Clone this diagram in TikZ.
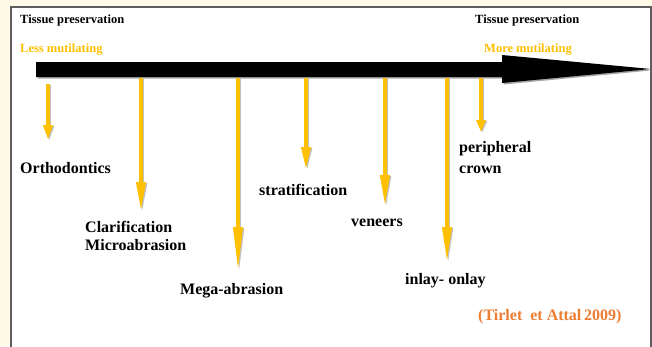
\documentclass[tikz,border=0pt]{standalone}
\usepackage{fontspec}
\setmainfont{Liberation Serif}
\usetikzlibrary{arrows.meta}
\definecolor{cream}{HTML}{FFFAE8}
\definecolor{gold}{HTML}{FFC000}
\definecolor{rust}{HTML}{ED7D31}
\definecolor{framegray}{HTML}{5F5F5F}
\tikzset{
  hdr/.style={font=\bfseries\fontsize{12.5}{14}\selectfont, anchor=base west, inner sep=0pt},
  lbl/.style={font=\bfseries\fontsize{16}{18}\selectfont, anchor=base west, inner sep=0pt},
  drop/.style={draw=gold, line width=4pt, -{Triangle[length=#1, width=9pt]}},
  dropshade/.style={draw=black!25, line width=4pt, -{Triangle[length=#1, width=9pt]}},
}
\begin{document}
\begin{tikzpicture}[x=1pt, y=-1pt]
  % page and panel
  \fill[cream] (0,0) rectangle (652,346);
  \useasboundingbox (0,0) rectangle (652,346);
  \draw[framegray, line width=2pt, fill=white] (11,7) rectangle (650.5,360);

  % main timeline arrow
  \coordinate (tailtop) at (36,62);
  \coordinate (tailbot) at (36,77);
  \coordinate (tip) at (651,69);
  \fill[black!35] ([shift={(1.5,1.5)}]tailtop) -- (503.5,63.5) -- (503.5,56.5) -- ([shift={(0,1.5)}]tip)
        -- (503.5,84.5) -- (503.5,78.5) -- ([shift={(1.5,1.5)}]tailbot) -- cycle;
  \fill[black] (tailtop) -- (502,62) -- (502,55) -- (tip) -- (502,83) -- (502,77) -- (tailbot) -- cycle;

  % headings
  \node[hdr] (tpl) at (20,23) {Tissue preservation};
  \node[hdr] (tpr) at (475,23) {Tissue preservation};
  \node[hdr, text=gold] (less) at (20,52) {Less mutilating};
  \node[hdr, text=gold] (more) at (484,52) {More mutilating};

  % treatment labels
  \node[lbl] (ortho) at (20,173) {Orthodontics};
  \node[lbl] (clar) at (85,232) {Clarification};
  \node[lbl] (micro) at (85,250) {Microabrasion};
  \node[lbl] (mega) at (180,294) {Mega-abrasion};
  \node[lbl] (strat) at (259,195) {stratification};
  \node[lbl] (ven) at (351,226) {veneers};
  \node[lbl] (inlay) at (405,284) {inlay- onlay};
  \node[lbl] (peri) at (459,152) {peripheral};
  \node[lbl] (crown) at (459,173) {crown};
  \node[lbl, text=rust] (cite) at (478,320) {(Tirlet\ \ et\ Attal\,2009)};

  % drop arrows: start, tip, head length
  \foreach \n/\x/\ya/\yb/\hl in {1/48/84/140/15, 2/141/78/212/30, 3/238/78/272/45,
                                4/306/78/170/23, 5/385/78/207/32, 6/447/78/263/36,
                                7/481/78/132/12}{
    \coordinate (s\n) at (\x,\ya);
    \coordinate (e\n) at (\x,\yb);
    \draw[dropshade=\hl pt] ([shift={(1.2,1)}]s\n) -- ([shift={(1.2,1)}]e\n);
    \draw[drop=\hl pt] (s\n) -- (e\n);
  }
\end{tikzpicture}
\end{document}
